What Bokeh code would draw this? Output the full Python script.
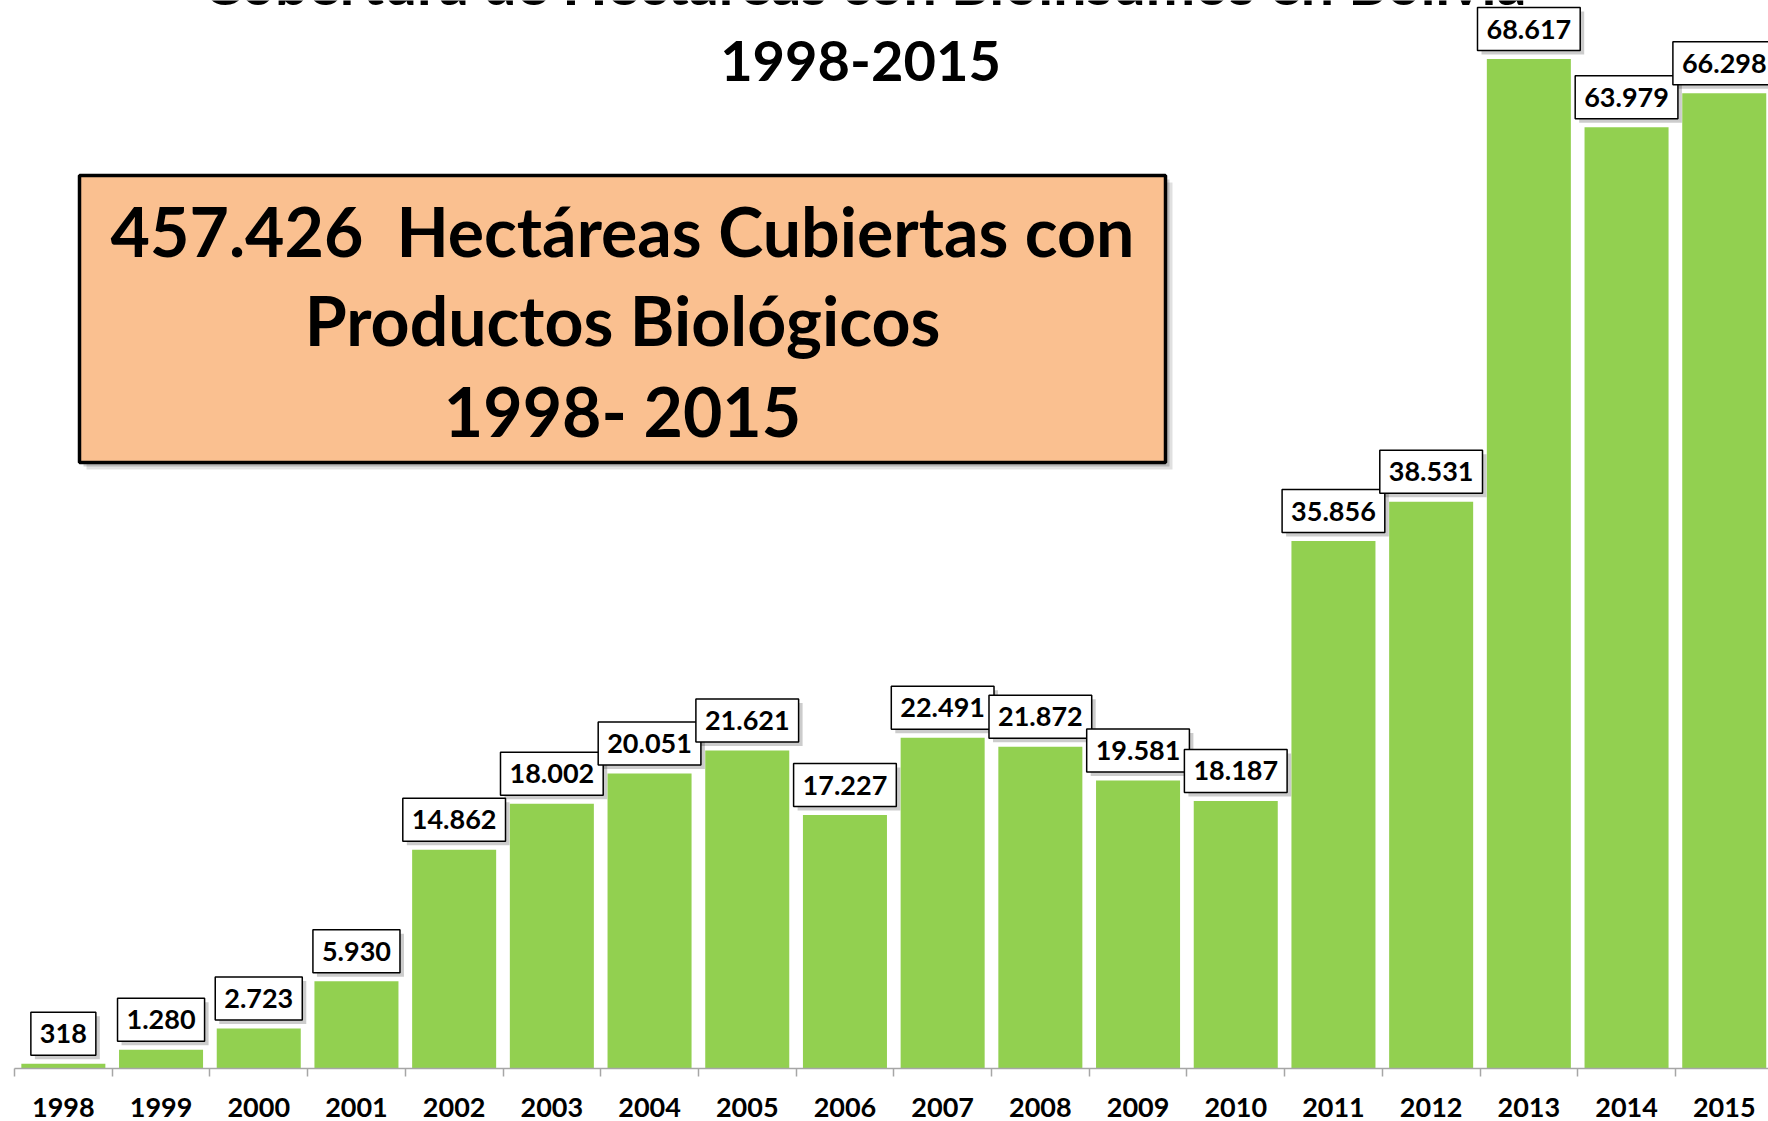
from bokeh.plotting import figure
from bokeh.models import Range1d, FixedTicker, ColumnDataSource
from bokeh.core.properties import value
from bokeh.embed import file_html
from bokeh.resources import INLINE

# ---- data ----
years = ["1998", "1999", "2000", "2001", "2002", "2003", "2004", "2005", "2006",
         "2007", "2008", "2009", "2010", "2011", "2012", "2013", "2014", "2015"]
hectares = [318, 1280, 2723, 5930, 14862, 18002, 20051, 21621, 17227,
            22491, 21872, 19581, 18187, 35856, 38531, 68617, 63979, 66298]
value_labels = [f"{v:,}".replace(",", ".") for v in hectares]
total_label = f"{sum(hectares):,}".replace(",", ".")

title_text = "Cobertura de Hectáreas con Bioinsumos en Bolivia"
subtitle_text = "1998-2015"
box_lines = [total_label + " \u00a0Hectáreas Cubiertas con", "Productos Biológicos", "1998- 2015"]

# ---- layout constants (pixels) ----
W, H = 1768, 1121
BASE = 1068             # canvas y of the zero line
PX_X = 97.7             # pixels per category
X0 = -0.5 - 14 / PX_X
X1 = X0 + W / PX_X
PX_Y = 0.014711         # pixels per hectare
Y1 = BASE / PX_Y
Y0 = -(H - BASE) / PX_Y


def dx(cx):
    return X0 + cx / PX_X


def dy(cy):
    return Y1 - cy / PX_Y


n = len(years)
xs = list(range(n))
src = ColumnDataSource(dict(x=xs, hectares=hectares, label=value_labels, year=years))

p = figure(width=W, height=H, x_range=Range1d(X0, X1), y_range=Range1d(Y0, Y1),
           output_backend="svg", toolbar_location=None, min_border=0)
p.min_border_left = 0
p.min_border_right = 0
p.min_border_top = 0
p.min_border_bottom = 0
p.outline_line_color = None
p.grid.visible = False
p.yaxis.visible = False
p.background_fill_color = "white"
p.border_fill_color = "white"

ax = p.xaxis[0]
ax.fixed_location = 0
ax.ticker = FixedTicker(ticks=xs, minor_ticks=[i - 0.5 for i in range(n + 1)])
ax.major_label_overrides = {i: y for i, y in enumerate(years)}
ax.bounds = (-0.5, n - 0.5)
ax.axis_line_color = "#A6A6A6"
ax.axis_line_width = 1.5
ax.major_tick_line_color = None
ax.major_tick_out = 0
ax.major_tick_in = 0
ax.minor_tick_line_color = "#A6A6A6"
ax.minor_tick_line_width = 1.5
ax.minor_tick_out = 8
ax.minor_tick_in = 0
ax.major_label_text_font = "Lato"
ax.major_label_text_font_style = "bold"
ax.major_label_text_font_size = "27px"
ax.major_label_text_color = "black"
ax.major_label_standoff = 21

# bars
p.vbar(x="x", top="hectares", width=0.86, source=src, fill_color="#92D050", line_color=None)

# title (cut at the top in the reference)
p.text(x=[dx(864)], y=[dy(-18)], text=[title_text], text_font=value("Lato"), text_font_style="bold",
       text_font_size="59px", text_align="center", text_baseline="middle", text_color="black")
p.text(x=[dx(860)], y=[dy(60)], text=[subtitle_text], text_font=value("Lato"), text_font_style="bold",
       text_font_size="56px", text_align="center", text_baseline="middle", text_color="black")

# summary box with shadow
for off, a in [(7, 0.12), (4, 0.18)]:
    p.quad(left=[dx(79 + off)], right=[dx(1165 + off)], top=[dy(175 + off)], bottom=[dy(462 + off)],
           fill_color="black", fill_alpha=a, line_color=None)
p.quad(left=[dx(79)], right=[dx(1165)], top=[dy(175)], bottom=[dy(462)],
       fill_color="#FAC090", line_color="black", line_width=3.5)
for txt, cy in zip(box_lines, [230, 319, 410]):
    p.text(x=[dx(622)], y=[dy(cy)], text=[txt], text_font=value("Lato"), text_font_style="bold",
           text_font_size="68px", text_align="center", text_baseline="middle", text_color="black")

# data labels: shadow then boxed label
pad = dict(left=9, right=9, top=12, bottom=12)
p.text(x="x", y="hectares", text="label", source=src, text_align="center", text_baseline="middle",
       x_offset=4, y_offset=-26, text_font=value("Lato"), text_font_style="bold", text_font_size="27px",
       text_alpha=0, background_fill_color="black", background_fill_alpha=0.2,
       border_line_color=None, padding=pad)
p.text(x="x", y="hectares", text="label", source=src, text_align="center", text_baseline="middle",
       y_offset=-30, text_font=value("Lato"), text_font_style="bold", text_font_size="27px",
       text_color="black", background_fill_color="white", border_line_color="black",
       border_line_width=1.5, padding=pad)

open("out.html", "w").write(file_html(p, INLINE))
